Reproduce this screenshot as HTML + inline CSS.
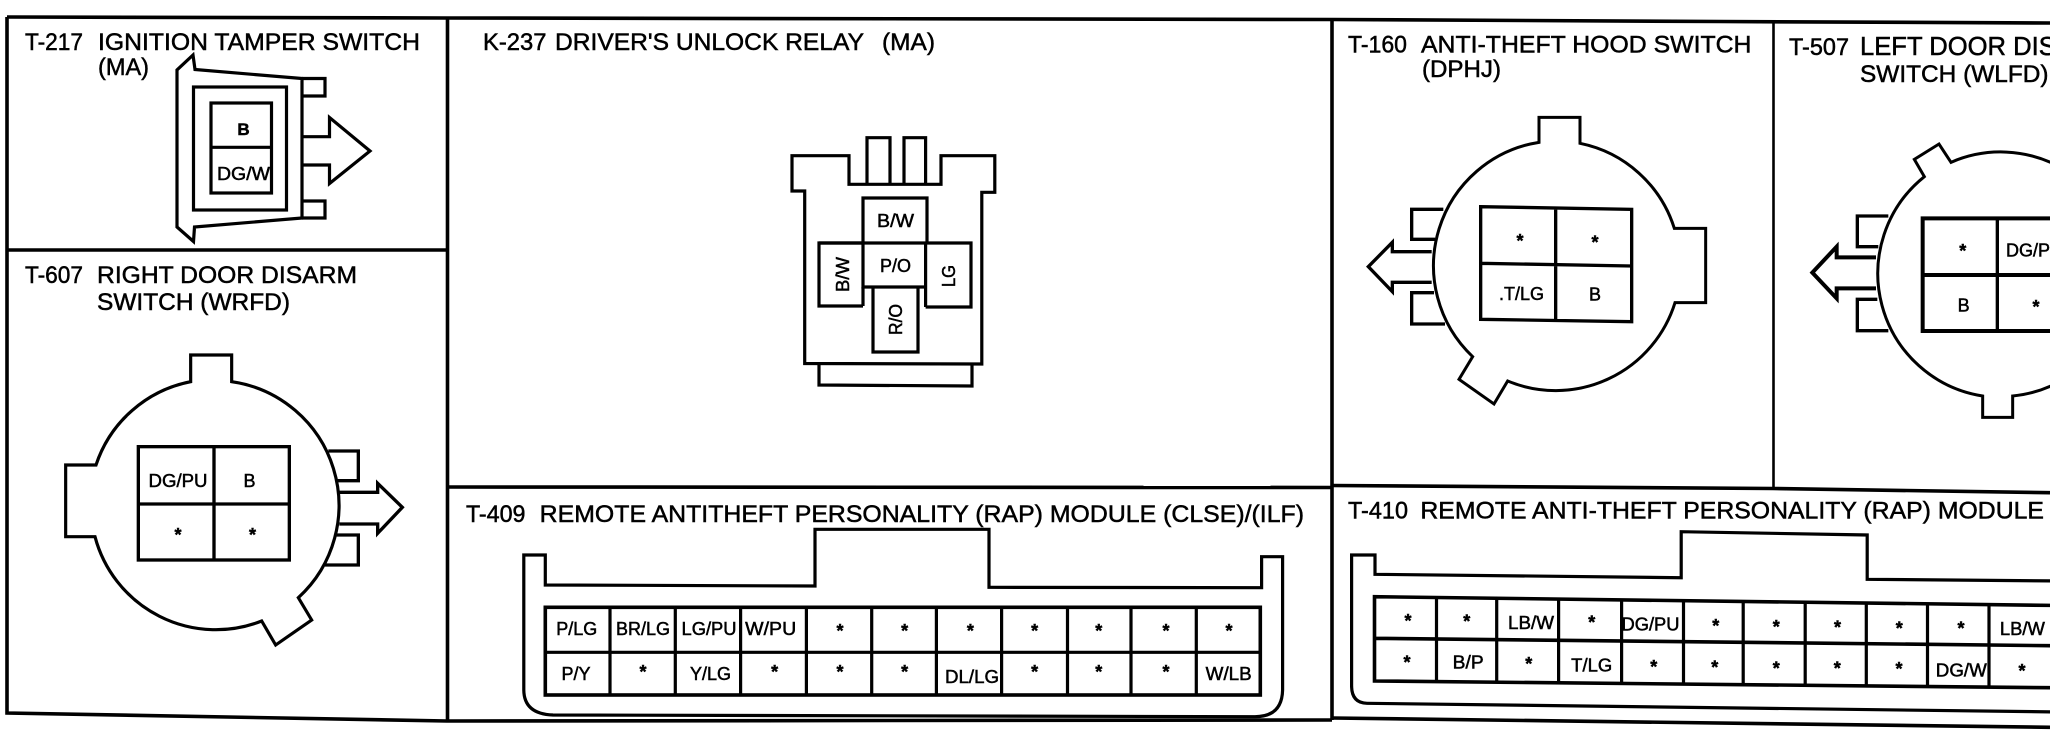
<!DOCTYPE html>
<html><head><meta charset="utf-8"><style>
html,body{margin:0;padding:0;background:#fff;width:2050px;height:736px;overflow:hidden}
svg{display:block}
text{font-family:"Liberation Sans",Arial,sans-serif;fill:#000;stroke:#000;stroke-width:.5}
.t{font-size:24.3px}
.l{font-size:18px;text-anchor:middle}
.s{font-size:18px;font-weight:bold;text-anchor:middle}
.k{fill:none;stroke:#000;stroke-width:3.2;stroke-linejoin:miter}
.f{fill:none;stroke:#000;stroke-width:3.6}
</style></head><body>
<svg width="2050" height="736" viewBox="0 0 2050 736" xmlns="http://www.w3.org/2000/svg">
<rect width="2050" height="736" fill="#fff"/>

<!-- frame -->
<path class="f" d="M7,17 L447,18 L1332,19.5 L1720,21.5 L2050,23"/>
<path class="f" d="M7,17 L7,713 L447,721 L1332,720"/>
<path class="f" d="M1332,718 L2050,727.3"/>
<path class="f" d="M447.5,18 V721"/>
<path class="f" d="M1332,19 V720"/>
<path class="f" d="M7,250 H447.5"/>
<path class="f" d="M447,487 L1332,487.5"/>
<path class="f" d="M1332,485.5 L1773,488.5 L2050,492.7"/>
<path d="M1773.5,22 V490" fill="none" stroke="#000" stroke-width="2.6"/>

<!-- titles -->
<text class="t" x="25" y="50" textLength="58" lengthAdjust="spacingAndGlyphs">T-217</text>
<text class="t" x="98" y="50" textLength="322" lengthAdjust="spacingAndGlyphs">IGNITION TAMPER SWITCH</text>
<text class="t" x="98" y="75" textLength="51" lengthAdjust="spacingAndGlyphs">(MA)</text>
<text class="t" x="25" y="283" textLength="58" lengthAdjust="spacingAndGlyphs">T-607</text>
<text class="t" x="97" y="283" textLength="260" lengthAdjust="spacingAndGlyphs">RIGHT DOOR DISARM</text>
<text class="t" x="97" y="310" textLength="193" lengthAdjust="spacingAndGlyphs">SWITCH (WRFD)</text>
<text class="t" x="483" y="50" textLength="63.5" lengthAdjust="spacingAndGlyphs">K-237</text>
<text class="t" x="555" y="50" textLength="309" lengthAdjust="spacingAndGlyphs">DRIVER'S UNLOCK RELAY</text>
<text class="t" x="882" y="50" textLength="53" lengthAdjust="spacingAndGlyphs">(MA)</text>
<text class="t" x="1348" y="52.5" textLength="59" lengthAdjust="spacingAndGlyphs">T-160</text>
<text class="t" x="1421" y="52.5" textLength="330.5" lengthAdjust="spacingAndGlyphs">ANTI-THEFT HOOD SWITCH</text>
<text class="t" x="1422" y="77" textLength="79" lengthAdjust="spacingAndGlyphs">(DPHJ)</text>
<text class="t" x="1789" y="55" textLength="60" lengthAdjust="spacingAndGlyphs">T-507</text>
<text class="t" x="1860" y="55" style="font-size:25.6px">LEFT DOOR DISARM</text>
<text class="t" x="1860" y="82" textLength="188.5" lengthAdjust="spacingAndGlyphs">SWITCH (WLFD)</text>
<text class="t" x="466" y="522" textLength="59.5" lengthAdjust="spacingAndGlyphs">T-409</text>
<text class="t" x="539.7" y="522" textLength="764.3" lengthAdjust="spacingAndGlyphs">REMOTE ANTITHEFT PERSONALITY (RAP) MODULE (CLSE)/(ILF)</text>
<text class="t" x="1348" y="518.5" textLength="60" lengthAdjust="spacingAndGlyphs">T-410</text>
<text class="t" x="1420.4" y="518.5" textLength="623.6" lengthAdjust="spacingAndGlyphs">REMOTE ANTI-THEFT PERSONALITY (RAP) MODULE</text>

<!-- T-217 -->
<path class="k" d="M302,78.5 L195,69.5 L193,55 L177,70 L177,227 L193.5,241.5 L194.5,227 L302,218 Z"/>
<path class="k" d="M302,78.5 H325 V96 H302"/>
<path class="k" d="M302,201 H325 V218 H302"/>
<path class="k" d="M302,136.7 H329.5 V117.5 L370,151 L329.5,183.5 V165 H302"/>
<rect class="k" x="193.5" y="87" width="93" height="123"/>
<rect class="k" x="211" y="103" width="60.5" height="90"/>
<path class="k" d="M211,147.3 H271.5"/>
<text class="l" x="243.5" y="135" style="font-weight:bold;font-size:17px">B</text>
<text class="l" x="243.5" y="180" textLength="53" lengthAdjust="spacingAndGlyphs">DG/W</text>

<!-- T-607 -->
<g transform="translate(0,250) scale(.33333)">
<path d="M572,395 L572,315 L695,315 L695,395 A375,375 0 0 1 895,1043 L935,1110 L827,1185 L785,1113 A375,375 0 0 1 285,860 L197,860 L197,645 L288,645 A375,375 0 0 1 572,395 Z" fill="none" stroke="#000" stroke-width="9.5"/>
<path d="M985,603 H1075 V692 H1012 M1008,855 H1075 V945 H975 M1018,727 H1133 V700 L1207,772 L1133,850 V822 H1018" fill="none" stroke="#000" stroke-width="10"/>
<rect x="415" y="590" width="453" height="340" fill="none" stroke="#000" stroke-width="10"/>
<path d="M642,590 V930 M415,762 H868" fill="none" stroke="#000" stroke-width="10"/>
</g>
<text class="l" x="178" y="487" textLength="59" lengthAdjust="spacingAndGlyphs">DG/PU</text>
<text class="l" x="249.5" y="487">B</text>
<text class="s" x="178" y="541">*</text>
<text class="s" x="252.5" y="541">*</text>

<!-- K-237 -->
<path class="k" d="M792,155.7 H849 V184.3 H941 V155.7 H994.8 V192.3 H981.8 V364 L804.7,363.5 V191 H792 Z"/>
<path class="k" d="M867,184 V137.7 H890 V184 M904,184 V137.7 H925.6 V184"/>
<path class="k" d="M819,364 V385 L972,386 V364"/>
<path class="k" d="M863,243 V198 H927 V243"/>
<path class="k" d="M863,243 H819 V306 H863"/>
<path class="k" d="M819,243 H971 V307 H925.6"/>
<path class="k" d="M863,243 V287 H925.6 V243 M925.6,287 V307"/>
<path class="k" d="M873,288 V352 H918 V288"/>
<path class="k" d="M863,287 V306"/>
<text class="l" x="895.5" y="227" textLength="37" lengthAdjust="spacingAndGlyphs">B/W</text>
<text class="l" x="895.5" y="272" textLength="31" lengthAdjust="spacingAndGlyphs">P/O</text>
<text class="l" transform="translate(849,292) rotate(-90)" style="text-anchor:start" textLength="35" lengthAdjust="spacingAndGlyphs">B/W</text>
<text class="l" transform="translate(955,287) rotate(-90)" style="text-anchor:start" textLength="22" lengthAdjust="spacingAndGlyphs">LG</text>
<text class="l" transform="translate(902,335) rotate(-90)" style="text-anchor:start" textLength="31" lengthAdjust="spacingAndGlyphs">R/O</text>

<!-- T-409 -->
<path class="k" d="M523.8,555 H545.3 V585 L815,586 V529.3 H989 V587.3 L1261.6,587.7 V556.7 H1282.6 V690 Q1282,716.7 1255,716.7 L553,715 Q524,714 523.8,690 Z"/>
<rect class="k" x="545.3" y="607.3" width="715" height="87.7" style="stroke-width:3.6"/>
<path class="k" d="M545.3,652.3 H1260.3 M610,607 V695 M675.3,607 V695 M740.6,607 V695 M806.4,607 V695 M871.7,607 V695 M936.4,607 V695 M1001.6,607 V695 M1067.5,607 V695 M1131,607 V695 M1196.3,607 V695"/>
<text class="l" x="576.8" y="635" textLength="41" lengthAdjust="spacingAndGlyphs">P/LG</text>
<text class="l" x="643" y="635" textLength="54" lengthAdjust="spacingAndGlyphs">BR/LG</text>
<text class="l" x="709" y="635" textLength="55" lengthAdjust="spacingAndGlyphs">LG/PU</text>
<text class="l" x="770.7" y="635" textLength="51" lengthAdjust="spacingAndGlyphs">W/PU</text>
<text class="l" x="576" y="680" textLength="29" lengthAdjust="spacingAndGlyphs">P/Y</text>
<text class="l" x="710.5" y="680" textLength="41" lengthAdjust="spacingAndGlyphs">Y/LG</text>
<text class="l" x="972" y="683" textLength="54" lengthAdjust="spacingAndGlyphs">DL/LG</text>
<text class="l" x="1228.7" y="680" textLength="46" lengthAdjust="spacingAndGlyphs">W/LB</text>
<text class="s" x="840" y="637">*</text><text class="s" x="904.6" y="637">*</text><text class="s" x="970.4" y="637">*</text><text class="s" x="1034.6" y="637">*</text><text class="s" x="1098.7" y="637">*</text><text class="s" x="1166" y="637">*</text><text class="s" x="1229" y="637">*</text>
<text class="s" x="643" y="678">*</text><text class="s" x="774.6" y="678">*</text><text class="s" x="840" y="678">*</text><text class="s" x="904.6" y="678">*</text><text class="s" x="1034.6" y="678">*</text><text class="s" x="1098.7" y="678">*</text><text class="s" x="1166" y="678">*</text>

<!-- T-160 -->
<g transform="translate(1360,110) scale(.33333)" fill="none" stroke="#000" stroke-width="10">
<path stroke-width="9" d="M537,97 L537,22 L660,22 L660,100 A375,375 0 0 1 943,355 L1037,355 L1037,578 L945,578 A375,375 0 0 1 443,813 L402,882 L297,808 L338,740 A375,375 0 0 1 537,97 Z"/>
<path d="M250,298 H155 V388 H225 M222,548 H155 V642 H255"/>
<path d="M215,425 H97 V397 L25,470 L97,545 V517 H215"/>
<path d="M362,290 L815,298 V635 L362,628 Z M587,293 V632 M362,460 L815,468"/>
</g>
<text class="s" x="1520" y="247">*</text>
<text class="s" x="1595" y="248.5">*</text>
<text class="l" x="1521.5" y="300" textLength="45" lengthAdjust="spacingAndGlyphs">.T/LG</text>
<text class="l" x="1595" y="300.7">B</text>

<!-- T-507 -->
<g transform="translate(1790,130) scale(.33333)" fill="none" stroke="#000" stroke-width="10">
<path stroke-width="9" d="M483,97 L447,42 L373,88 L403,140 A372,372 0 0 0 578,798 V862 H668 V798 A372,372 0 0 0 1004,430 A372,372 0 0 0 483,97 Z"/>
<path d="M295,258 H202 V350 H265 M262,508 H202 V602 H295"/>
<path stroke-width="12" d="M258,382 H140 V350 L67,428 L140,505 V475 H258"/>
<path stroke-width="12" d="M900,265 H398 V603 H900 M398,435 H900"/>
<path d="M622,265 V603"/>
</g>
<text class="s" x="1962.7" y="257">*</text>
<text class="l" x="2006" y="256.7" style="text-anchor:start">DG/PU</text>
<text class="l" x="1963.6" y="311.7">B</text>
<text class="s" x="2036" y="313">*</text>

<!-- T-410 -->
<path class="k" d="M2060,581 L1867.2,579.3 V535 L1681.2,531.7 V577.7 L1375,574.3 V555 H1351.6 V686.7 Q1352,703 1367,703.3 L2060,712"/>
<path class="k" d="M2060,605.5 L1374.5,596.7 V681 L2060,687.8 M1374.5,638.3 L2060,645.8" style="stroke-width:3.6"/>
<path class="k" d="M1436.5,597.5 V681.6 M1496.7,598.2 V682.2 M1558.6,599 V682.8 M1621.6,599.8 V683.4 M1683.5,600.5 V684 M1743.2,601.3 V684.6 M1805.2,602 V685.2 M1866.3,602.8 V685.8 M1927.5,603.5 V686.4 M1989,604.3 V687"/>
<text class="s" x="1408" y="627">*</text>
<text class="s" x="1466.8" y="627.5">*</text>
<text class="l" x="1531" y="629" textLength="46" lengthAdjust="spacingAndGlyphs">LB/W</text>
<text class="s" x="1591.7" y="628.5">*</text>
<text class="l" x="1650.5" y="630.7" textLength="58" lengthAdjust="spacingAndGlyphs">DG/PU</text>
<text class="s" x="1715.7" y="632">*</text>
<text class="s" x="1776.3" y="633">*</text>
<text class="s" x="1837.5" y="633.5">*</text>
<text class="s" x="1899.3" y="634.5">*</text>
<text class="s" x="1961" y="634.5">*</text>
<text class="l" x="2022.4" y="634.8" textLength="45" lengthAdjust="spacingAndGlyphs">LB/W</text>
<text class="s" x="1407" y="668.5">*</text>
<text class="l" x="1468.2" y="668.3" textLength="31" lengthAdjust="spacingAndGlyphs">B/P</text>
<text class="s" x="1528.8" y="670">*</text>
<text class="l" x="1591.7" y="671.7" textLength="41" lengthAdjust="spacingAndGlyphs">T/LG</text>
<text class="s" x="1653.7" y="673">*</text>
<text class="s" x="1714.8" y="673.5">*</text>
<text class="s" x="1776.3" y="674.5">*</text>
<text class="s" x="1837.3" y="674.5">*</text>
<text class="s" x="1899" y="675">*</text>
<text class="l" x="1961.3" y="676.7" textLength="51" lengthAdjust="spacingAndGlyphs">DG/W</text>
<text class="s" x="2022" y="677">*</text>
</svg>
</body></html>
